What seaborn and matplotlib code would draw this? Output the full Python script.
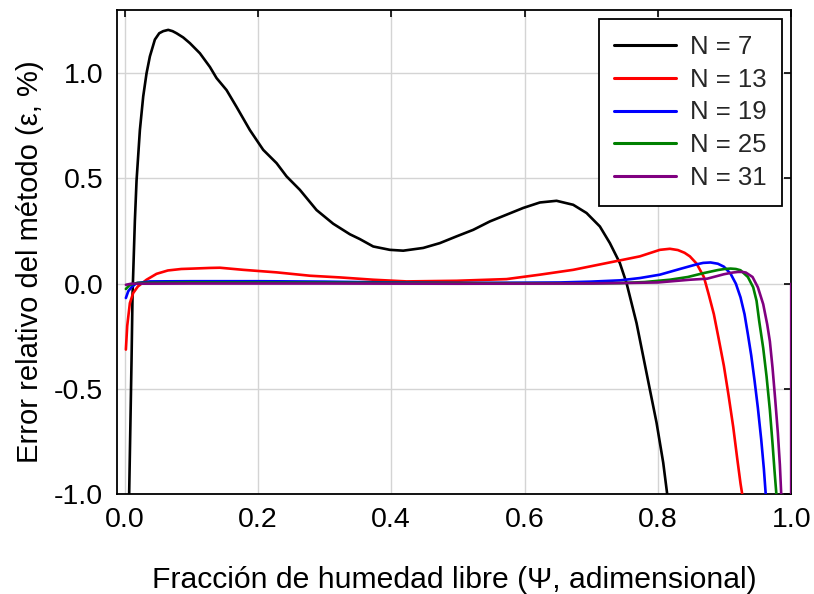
import matplotlib
matplotlib.use("Agg")
import matplotlib.pyplot as plt
import seaborn as sns
import pandas as pd
import numpy as np

# ---- data ----
labels = ["N = 7", "N = 13", "N = 19", "N = 25", "N = 31"]
colors = ["#000000", "#ff0000", "#0000ff", "#008000", "#800080"]

x7 = [0.0055, 0.0105, 0.012, 0.0155, 0.018, 0.023, 0.028, 0.033, 0.038, 0.0455, 0.052,
      0.058, 0.0655, 0.072, 0.078, 0.088, 0.098, 0.113, 0.128, 0.138, 0.153, 0.168,
      0.188, 0.208, 0.228, 0.243, 0.263, 0.288, 0.313, 0.338, 0.353, 0.373, 0.398,
      0.418, 0.448, 0.473, 0.498, 0.523, 0.548, 0.573, 0.598, 0.623, 0.648, 0.673,
      0.693, 0.713, 0.728, 0.743, 0.753, 0.768, 0.778, 0.788, 0.798, 0.808, 0.814, 0.822]
y7 = [-1.25, -0.36, -0.05, 0.30, 0.49, 0.73, 0.89, 1.00, 1.08, 1.16, 1.19,
      1.20, 1.206, 1.20, 1.19, 1.17, 1.143, 1.095, 1.03, 0.977, 0.92, 0.84,
      0.73, 0.636, 0.573, 0.51, 0.446, 0.35, 0.285, 0.235, 0.212, 0.177, 0.161,
      0.157, 0.17, 0.193, 0.225, 0.256, 0.296, 0.328, 0.36, 0.386, 0.394, 0.375,
      0.336, 0.272, 0.193, 0.098, 0.003, -0.187, -0.345, -0.503, -0.66, -0.85, -1.0, -1.2]

x13 = [0.002, 0.004, 0.008, 0.013, 0.020, 0.033, 0.048, 0.065, 0.085, 0.103, 0.128,
       0.143, 0.178, 0.228, 0.278, 0.323, 0.373, 0.423, 0.498, 0.573, 0.623, 0.673,
       0.723, 0.773, 0.803, 0.818, 0.830, 0.840, 0.848, 0.858, 0.869, 0.876, 0.884,
       0.891, 0.899, 0.906, 0.913, 0.919, 0.924, 0.928, 0.933]
y13 = [-0.313, -0.20, -0.092, -0.044, -0.013, 0.019, 0.047, 0.063, 0.070, 0.072, 0.075,
       0.076, 0.066, 0.054, 0.038, 0.030, 0.019, 0.011, 0.014, 0.022, 0.043, 0.066,
       0.098, 0.130, 0.161, 0.166, 0.160, 0.147, 0.130, 0.096, 0.032, -0.048, -0.145,
       -0.258, -0.39, -0.53, -0.68, -0.83, -0.95, -1.03, -1.2]

x19 = [0.002, 0.0055, 0.0105, 0.018, 0.038, 0.1, 0.2, 0.3, 0.4, 0.5, 0.6, 0.653,
       0.7, 0.743, 0.773, 0.803, 0.833, 0.858, 0.868, 0.879, 0.890, 0.899, 0.909, 0.917,
       0.924, 0.930, 0.935, 0.940, 0.945, 0.950, 0.955, 0.959, 0.962, 0.966]
y19 = [-0.068, -0.036, -0.016, 0.003, 0.011, 0.012, 0.012, 0.010, 0.006, 0.004, 0.005, 0.006,
       0.010, 0.016, 0.027, 0.043, 0.070, 0.092, 0.099, 0.101, 0.095, 0.081, 0.048, 0.0,
       -0.065, -0.145, -0.24, -0.34, -0.46, -0.59, -0.74, -0.88, -1.01, -1.2]

x25 = [0.002, 0.008, 0.02, 0.1, 0.3, 0.5, 0.7, 0.743, 0.78, 0.818, 0.845, 0.868,
       0.89, 0.900, 0.909, 0.917, 0.924, 0.935, 0.943, 0.948, 0.952, 0.958, 0.963,
       0.968, 0.972, 0.975, 0.978, 0.982]
y25 = [-0.025, -0.005, 0.004, 0.006, 0.005, 0.003, 0.002, 0.003, 0.008, 0.019, 0.032, 0.050,
       0.065, 0.070, 0.072, 0.070, 0.064, 0.032, -0.017, -0.081, -0.178, -0.306, -0.44,
       -0.60, -0.76, -0.89, -1.01, -1.2]

x31 = [0.002, 0.01, 0.1, 0.3, 0.5, 0.7, 0.8, 0.848, 0.874, 0.899, 0.912, 0.920, 0.927,
       0.932, 0.942, 0.950, 0.958, 0.964, 0.968, 0.972, 0.976, 0.980, 0.983, 0.985,
       0.9995, 1.0]
y31 = [-0.005, 0.0, 0.001, 0.001, 0.0, 0.001, 0.006, 0.019, 0.024, 0.045, 0.053, 0.056, 0.056,
       0.053, 0.032, -0.017, -0.097, -0.193, -0.274, -0.40, -0.55, -0.71, -0.86, -1.0,
       -6.0, 0.0]

xs = [x7, x13, x19, x25, x31]
ys = [y7, y13, y19, y25, y31]

frames = []
for lab, xv, yv in zip(labels, xs, ys):
    frames.append(pd.DataFrame({"psi": xv, "err": yv, "serie": lab}))
df = pd.concat(frames, ignore_index=True)

# ---- style ----
sns.set_theme(style="white")
plt.rcParams["font.family"] = ["Liberation Sans", "DejaVu Sans"]
plt.rcParams["axes.unicode_minus"] = False

fig = plt.figure(figsize=(8.14, 5.94), dpi=100)
ax = fig.add_axes([0.144, 0.168, 0.828, 0.815])

sns.lineplot(data=df, x="psi", y="err", hue="serie", hue_order=labels,
             palette=dict(zip(labels, colors)), estimator=None, sort=False,
             linewidth=1.9, ax=ax, zorder=3)

ax.set_xlim(-0.011, 1.0)
ax.set_ylim(-1.0, 1.3)
ax.set_xticks([0.0, 0.2, 0.4, 0.6, 0.8, 1.0])
ax.set_yticks([-1.0, -0.5, 0.0, 0.5, 1.0])
ax.set_xticklabels(["0.0", "0.2", "0.4", "0.6", "0.8", "1.0"])
ax.set_yticklabels(["-1.0", "-0.5", "0.0", "0.5", "1.0"])

ax.grid(True, color="#d4d4d4", linewidth=1.0)
ax.set_axisbelow(True)
for s in ax.spines.values():
    s.set_visible(True)
    s.set_color("black")
    s.set_linewidth(1.3)
    s.set_zorder(2.5)

ax.tick_params(axis="both", which="major", direction="in", top=True, right=True,
               length=5, width=1.2, color="black", labelsize=20.5, labelcolor="black")
ax.tick_params(axis="y", pad=10)
ax.tick_params(axis="x", pad=9)

ax.set_xlabel("Fracción de humedad libre (Ψ, adimensional)", fontsize=21.7,
              color="black", labelpad=24)
ax.set_ylabel("Error relativo del método (ε, %)", fontsize=21,
              color="black")
ax.yaxis.set_label_coords(-0.109, 0.481)

handles, _ = ax.get_legend_handles_labels()
leg = ax.legend(handles=handles, labels=labels, loc="upper right", fontsize=18.5,
                frameon=True, fancybox=False, framealpha=1.0, edgecolor="black",
                borderaxespad=0.35, borderpad=0.6, handlelength=2.4,
                handletextpad=0.55, labelspacing=0.35)
leg.get_frame().set_linewidth(1.3)
leg.set_zorder(5)
for h in leg.get_lines():
    h.set_linewidth(2.2)

fig.savefig("out.png", dpi=100)
